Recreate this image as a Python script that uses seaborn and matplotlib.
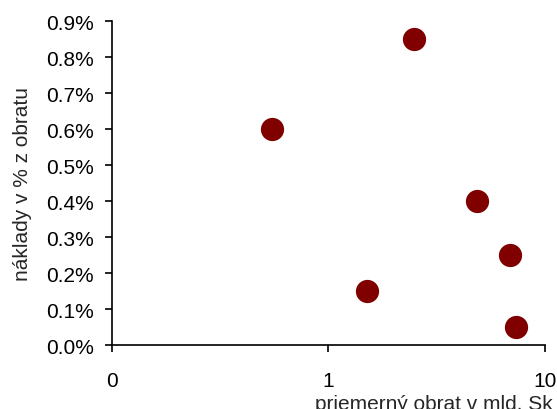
import numpy as np
import pandas as pd
import seaborn as sns
import matplotlib.pyplot as plt
from matplotlib.ticker import FixedLocator, FixedFormatter, NullLocator

# values
obrat = [0.55, 2.48, 1.51, 4.85, 6.9, 7.35]      # mld. Sk
naklady = [0.60, 0.85, 0.15, 0.40, 0.25, 0.05]   # % z obratu

x_ticks = [0.1, 1, 10]
x_labels = ['0', '1', '10']
y_ticks = [0.0, 0.1, 0.2, 0.3, 0.4, 0.5, 0.6, 0.7, 0.8, 0.9]

df = pd.DataFrame({'obrat': obrat, 'naklady': naklady})

sns.set_style('ticks')
plt.rcParams['font.family'] = ['Liberation Sans', 'DejaVu Sans']

fig = plt.figure(figsize=(5.57, 4.10), dpi=100)
ax = fig.add_axes([0.201, 0.156, 0.777, 0.790])

sns.scatterplot(data=df, x='obrat', y='naklady', ax=ax, s=280,
                color='#800000', edgecolor='#800000', linewidth=0, zorder=3)

ax.set_xscale('log')
ax.set_xlim(0.1, 10)
ax.set_ylim(0, 0.9)
ax.xaxis.set_major_locator(FixedLocator(x_ticks))
ax.xaxis.set_major_formatter(FixedFormatter(x_labels))
ax.xaxis.set_minor_locator(NullLocator())
ax.set_yticks(y_ticks)
ax.set_yticklabels([f'{v:.1f}%' for v in y_ticks])

fs = 15
ax.tick_params(axis='both', direction='out', length=5, width=1.2,
               labelsize=fs, colors='black', pad=8)
ax.tick_params(axis='x', pad=14)
for side in ['top', 'right']:
    ax.spines[side].set_visible(False)
for side in ['left', 'bottom']:
    ax.spines[side].set_linewidth(1.2)
    ax.spines[side].set_color('black')

ax.set_ylabel('náklady v % z obratu', fontsize=fs, labelpad=10)
ax.set_xlabel('')
fig.text(0.993, 0.014, 'priemerný obrat v mld. Sk', fontsize=fs,
         ha='right', va='center')

fig.savefig('out.png', dpi=100)
